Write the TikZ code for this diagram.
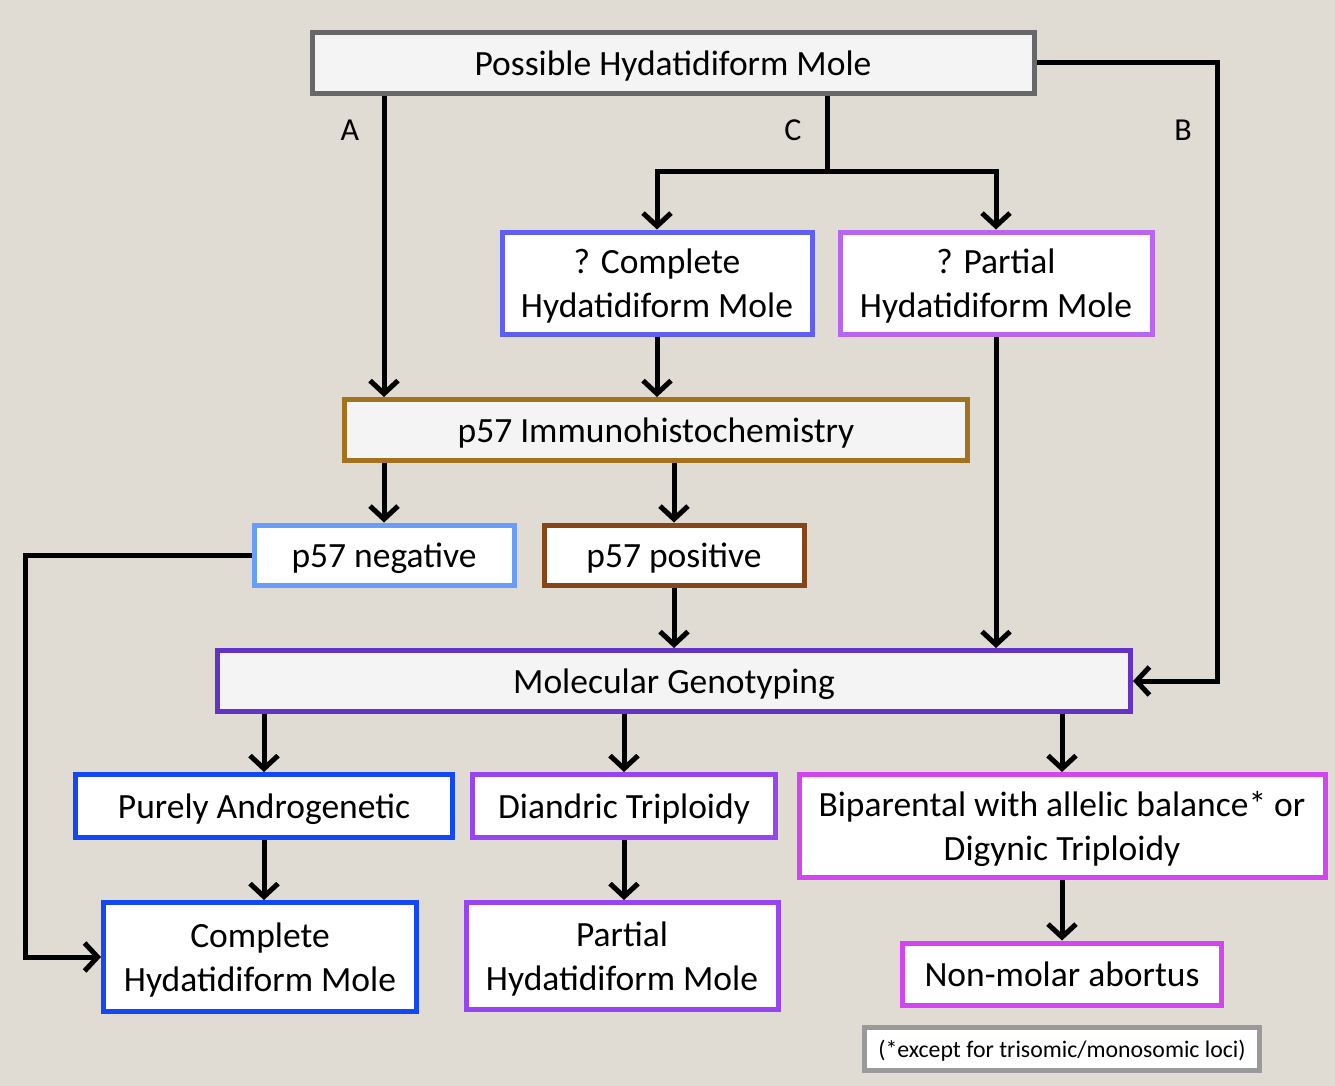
\documentclass[tikz,border=0pt]{standalone}
\usepackage{fontspec}
\setmainfont{Carlito}
\usetikzlibrary{arrows.meta}
\definecolor{bg}{HTML}{E0DBD3}
\definecolor{lightfill}{HTML}{F4F4F4}
\definecolor{cgray}{HTML}{686868}
\definecolor{qblue}{HTML}{5F60F2}
\definecolor{qpurple}{HTML}{B866F2}
\definecolor{gold}{HTML}{A2721F}
\definecolor{lblue}{HTML}{6A9DF8}
\definecolor{brown}{HTML}{86461A}
\definecolor{molpurple}{HTML}{6333C6}
\definecolor{dblue}{HTML}{1448F5}
\definecolor{violet}{HTML}{9645F0}
\definecolor{magenta}{HTML}{D245F0}
\definecolor{fgray}{HTML}{9A9A9A}
\begin{document}
\begin{tikzpicture}[x=1pt,y=-1pt,
  box/.style={draw, line width=5pt, fill=white, align=center, inner sep=0pt, text=black,
    text depth=0pt, font=\fontsize{35.5}{44}\selectfont},
  ln/.style={line width=5pt, black},
  arr/.style={line width=5pt, black, -{Straight Barb[length=13pt,width=28pt,line width=5pt]}},
  lbl/.style={font=\fontsize{32}{38}\selectfont, text=black}]
\useasboundingbox (0,0) rectangle (1335,1086);
\fill[bg] (0,0) rectangle (1335,1086);

\node[box, fill=lightfill, draw=cgray, minimum width=722, minimum height=61] (top) at (673,63) {Possible Hydatidiform Mole};
\node[box, draw=qblue, minimum width=310, minimum height=102] (qc) at (657,283) {? Complete\\Hydatidiform Mole};
\node[box, draw=qpurple, minimum width=312, minimum height=102] (qp) at (996,283) {? Partial\\Hydatidiform Mole};
\node[box, fill=lightfill, draw=gold, minimum width=623, minimum height=61] (ihc) at (656,430) {p57 Immunohistochemistry};
\node[box, draw=lblue, minimum width=260, minimum height=60] (neg) at (384,555) {p57 negative};
\node[box, draw=brown, minimum width=260, minimum height=60] (pos) at (674,555) {p57 positive};
\node[box, fill=lightfill, draw=molpurple, minimum width=913, minimum height=61] (mol) at (674,681) {Molecular Genotyping};
\node[box, draw=dblue, minimum width=377, minimum height=63] (pure) at (264,806) {Purely Androgenetic};
\node[box, draw=violet, minimum width=303, minimum height=63] (dia) at (624,806) {Diandric Triploidy};
\node[box, draw=magenta, minimum width=526, minimum height=103] (bip) at (1062,826) {Biparental with allelic balance* or\\Digynic Triploidy};
\node[box, draw=dblue, minimum width=313, minimum height=109] (chm) at (260,957) {Complete\\Hydatidiform Mole};
\node[box, draw=violet, minimum width=312, minimum height=107] (phm) at (622,956) {Partial\\Hydatidiform Mole};
\node[box, draw=magenta, minimum width=319, minimum height=62] (non) at (1062,974) {Non-molar abortus};
\node[box, draw=fgray, minimum width=395, minimum height=43, font=\fontsize{23.8}{28}\selectfont] (foot) at (1062,1049) {(*except for trisomic/monosomic loci)};

\coordinate (cA) at (384,0);
\coordinate (cC) at (827,0);
\coordinate (cB) at (1217,0);
\coordinate (yC) at (0,172);
\coordinate (xL) at (25,0);

\draw[arr] (top.south -| cA) -- (ihc.north -| cA);
\draw[ln] (top.south -| cC) -- (cC |- yC);
\draw[arr] (cC |- yC) -| (qc.north);
\draw[arr] (cC |- yC) -| (qp.north);
\draw[arr] (top.east) -| (cB |- mol.east) -- (mol.east);
\draw[arr] (qc.south) -- (ihc.north -| qc.south);
\draw[arr] (qp.south) -- (mol.north -| qp.south);
\draw[arr] (ihc.south -| neg.north) -- (neg.north);
\draw[arr] (ihc.south -| pos.north) -- (pos.north);
\draw[arr] (neg.west) -| (xL |- chm.west) -- (chm.west);
\draw[arr] (pos.south) -- (mol.north -| pos.south);
\draw[arr] (mol.south -| pure.north) -- (pure.north);
\draw[arr] (mol.south -| dia.north) -- (dia.north);
\draw[arr] (mol.south -| bip.north) -- (bip.north);
\draw[arr] (pure.south) -- (chm.north -| pure.south);
\draw[arr] (dia.south) -- (phm.north -| dia.south);
\draw[arr] (bip.south) -- (non.north -| bip.south);

\node[lbl] (la) at (350,130) {A};
\node[lbl] (lc) at (793,130) {C};
\node[lbl] (lb) at (1183,130) {B};
\end{tikzpicture}
\end{document}
